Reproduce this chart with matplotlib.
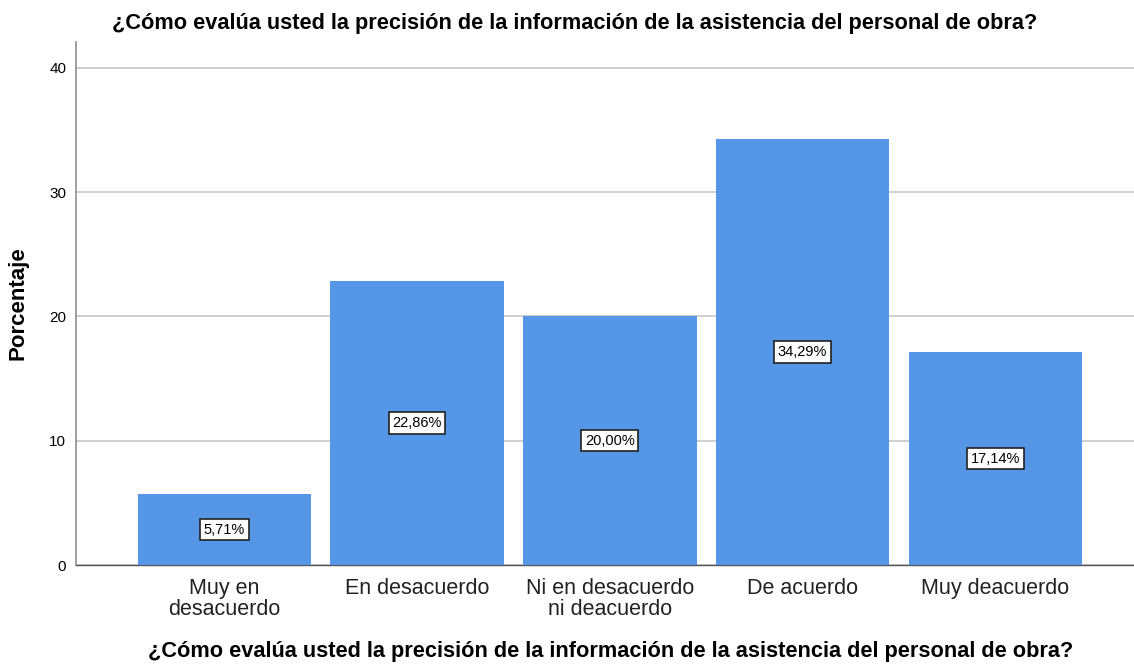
import matplotlib
matplotlib.use("Agg")
import matplotlib.pyplot as plt

plt.rcParams['font.family'] = ['Liberation Sans', 'DejaVu Sans']

categories = ["Muy en\ndesacuerdo", "En desacuerdo", "Ni en desacuerdo\nni deacuerdo", "De acuerdo", "Muy deacuerdo"]
values = [5.71, 22.86, 20.00, 34.29, 17.14]
labels = ["5,71%", "22,86%", "20,00%", "34,29%", "17,14%"]
yticks = [0, 10, 20, 30, 40]
title = "¿Cómo evalúa usted la precisión de la información de la asistencia del personal de obra?"

fig = plt.figure(figsize=(11.34, 6.64), dpi=100)
ax = fig.add_axes([0.067, 0.149, 0.933, 0.788])

x = list(range(len(categories)))
ax.bar(x, values, width=0.9, color="#5596e6", edgecolor="none", zorder=3)
for xi, v, lab in zip(x, values, labels):
    ax.text(xi, v / 2, lab, ha="center", va="center", fontsize=10.5, zorder=4,
            bbox=dict(boxstyle="square,pad=0.25", facecolor="white", edgecolor="#222222", linewidth=1.2))

ax.set_xlim(-0.77, 4.72)
ax.set_ylim(0, 42.1)
ax.set_yticks(yticks)
ax.set_yticklabels([str(t) for t in yticks], fontsize=11)
ax.set_xticks(x)
ax.set_xticklabels(categories, fontsize=15.5, color="#222222", linespacing=1.05)
ax.tick_params(axis="both", length=0, pad=7)
ax.tick_params(axis="x", pad=9)
ax.yaxis.grid(True, color="#cccccc", linewidth=1.3, zorder=0)
ax.set_axisbelow(True)
for s in ["top", "right"]:
    ax.spines[s].set_visible(False)
ax.spines["left"].set_color("#999999")
ax.spines["left"].set_linewidth(1.3)
ax.spines["bottom"].set_color("#555555")
ax.spines["bottom"].set_linewidth(1.0)

ax.set_ylabel("Porcentaje", fontsize=16, fontweight="bold", va="center", ha="center")
ax.yaxis.set_label_coords(-0.055, 0.5)
ax.set_xlabel(title, fontsize=15.7, fontweight="bold", va="center", ha="center")
ax.xaxis.set_label_coords(0.5057, -0.166)
fig.text(575 / 1134, 1 - 23 / 664, title, ha="center", va="center", fontsize=15.7, fontweight="bold")

fig.savefig("out.png", dpi=100)
